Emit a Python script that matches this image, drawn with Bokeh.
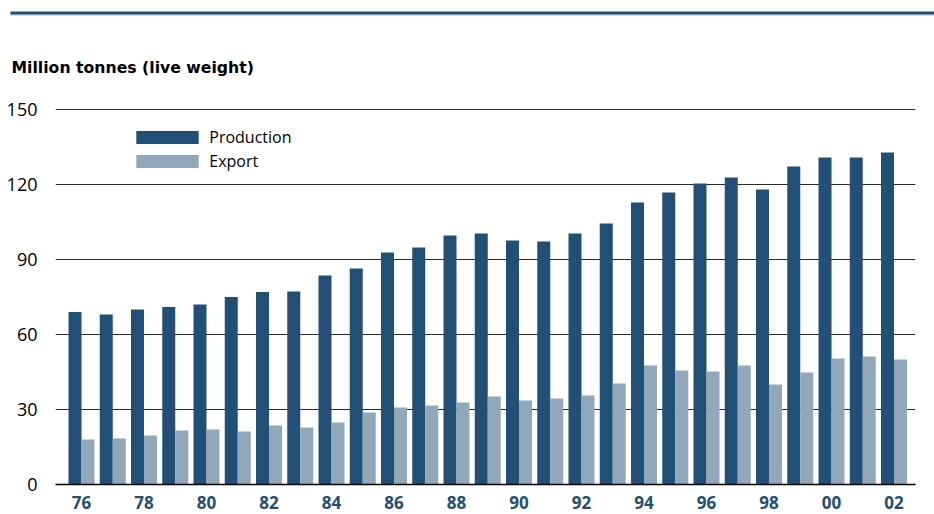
from bokeh.plotting import figure
from bokeh.models import (ColumnDataSource, FixedTicker, Range1d, Label,
                          Legend, LegendItem)
from bokeh.transform import dodge
from bokeh.embed import file_html
from bokeh.resources import INLINE

# ---- data ----
years = list(range(76, 103))  # 1976..2002 (100 = 2000)
production = [69, 68, 70, 71, 72, 75, 77, 77.2, 83.6, 86.4, 92.8, 94.8, 99.6,
              100.4, 97.6, 97.2, 100.4, 104.4, 112.8, 116.8, 120.4, 122.8, 118,
              127.2, 130.8, 130.8, 132.8]
export = [18, 18.4, 19.6, 21.6, 22, 21.2, 23.6, 22.8, 24.8, 28.8, 30.8, 31.6, 32.8,
          35.2, 33.6, 34.4, 35.6, 40.4, 47.6, 45.6, 45.2, 47.6, 40, 44.8, 50.4,
          51.2, 50]
x_ticks = list(range(76, 103, 2))
x_tick_labels = ["76", "78", "80", "82", "84", "86", "88", "90", "92", "94",
                 "96", "98", "00", "02"]
y_ticks = [0, 30, 60, 90, 120, 150]
title_text = "Million tonnes (live weight)"
series_names = ["Production", "Export"]

PROD = "#224f75"
EXP = "#91a7ba"
FONT = "Open Sans"

src = ColumnDataSource(dict(year=years, production=production, export=export))

p = figure(width=934, height=514, output_backend="svg", toolbar_location=None,
           x_range=Range1d(75.168, 102.688), y_range=Range1d(0, 150.4),
           min_border_left=55, min_border_right=19, min_border_top=108,
           min_border_bottom=30)
p.outline_line_color = None
p.background_fill_color = "white"
p.border_fill_color = "white"

bw = 0.416
r1 = p.vbar(x=dodge("year", -bw / 2, range=p.x_range), top="production", width=bw,
            source=src, fill_color=PROD, line_color=None)
r2 = p.vbar(x=dodge("year", bw / 2, range=p.x_range), top="export", width=bw,
            source=src, fill_color=EXP, line_color=None)

# axes
p.xaxis.ticker = FixedTicker(ticks=x_ticks)
p.xaxis.major_label_overrides = {t: l for t, l in zip(x_ticks, x_tick_labels)}
p.xaxis.axis_line_color = "black"
p.xaxis.axis_line_width = 1.5
p.xaxis.major_tick_line_color = None
p.xaxis.minor_tick_line_color = None
p.xaxis.major_label_text_font = FONT
p.xaxis.major_label_text_font_style = "bold"
p.xaxis.major_label_text_font_size = "17px"
p.xaxis.major_label_text_color = PROD
p.xaxis.major_label_standoff = 5

p.yaxis.ticker = FixedTicker(ticks=y_ticks)
p.yaxis.axis_line_color = None
p.yaxis.major_tick_line_color = None
p.yaxis.minor_tick_line_color = None
p.yaxis.major_label_text_font = FONT
p.yaxis.major_label_text_font_size = "18px"
p.yaxis.major_label_text_color = "black"
p.yaxis.major_label_standoff = 12

p.xgrid.grid_line_color = None
p.ygrid.grid_line_color = "#2a2a2a"
p.ygrid.grid_line_width = 1.2

legend = Legend(items=[LegendItem(label=series_names[0], renderers=[r1]),
                       LegendItem(label=series_names[1], renderers=[r2])],
                location=(73.25, 312.5), orientation="vertical",
                glyph_width=78, glyph_height=16, label_height=15,
                label_standoff=3, spacing=2, padding=0, margin=0,
                label_text_font=FONT, label_text_font_size="16px",
                label_text_color="black",
                background_fill_alpha=0, border_line_color=None)
p.add_layout(legend, "center")

title = Label(x=11, y=57, x_units="canvas", y_units="canvas", text=title_text,
              text_font="DejaVu Sans", text_font_style="bold", text_font_size="15.7px",
              text_color="black", text_baseline="top", text_align="left")
p.add_layout(title, "above")

rule = Label(x=10, y=11, x_units="canvas", y_units="canvas", text=" ",
             text_font=FONT, text_font_size="1px", text_baseline="top",
             text_align="left", padding=(462, 462, 1, 1),
             background_fill_color=PROD, border_line_color="#8fa8bd",
             border_line_width=1)
p.add_layout(rule, "above")

open("out.html", "w").write(file_html(p, INLINE))
